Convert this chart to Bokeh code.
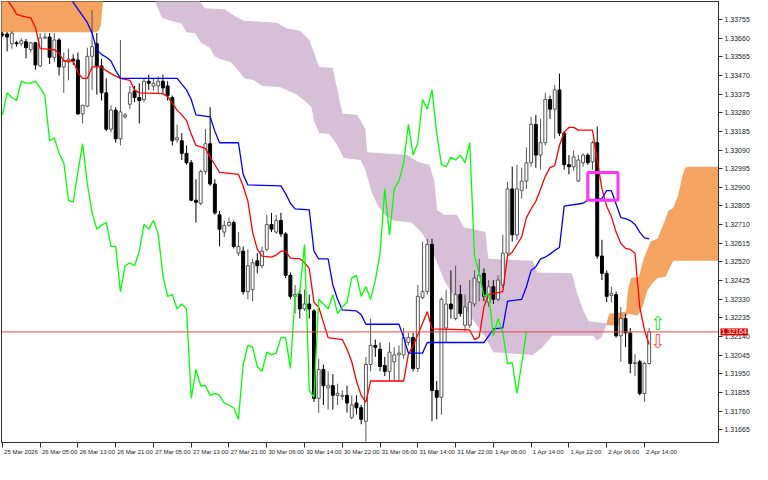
from bokeh.plotting import figure
from bokeh.models import FixedTicker, PrintfTickFormatter, Span, Label, Range1d, ColumnDataSource
from bokeh.embed import file_html
from bokeh.resources import INLINE
from bokeh.core.properties import value

# ---------------- data (H1 bars, index 0 = 25 Mar 21:00) ----------------
open_ = [
1.33680,1.33680,1.33631,1.33636,1.33631,1.33641,1.33601,1.33636,1.33518,1.33660,
1.33665,1.33562,1.33650,1.33513,1.33538,1.33553,1.33548,1.33274,1.33313,1.33567,
1.33631,1.33518,1.33381,1.33196,1.33293,1.33147,1.33259,1.33323,1.33391,1.33357,
1.33347,1.33440,1.33416,1.33416,1.33440,1.33416,1.33357,1.33142,1.33137,1.33073,
1.33025,1.32834,1.32819,1.32980,1.33122,1.32917,1.32760,1.32672,1.32707,1.32721,
1.32565,1.32575,1.32369,1.32379,1.32526,1.32501,1.32584,1.32711,1.32672,1.32731,
1.32663,1.32452,1.32345,1.32354,1.32281,1.32306,1.32271,1.31826,1.31973,1.31880,
1.31890,1.31841,1.31836,1.31841,1.31729,1.31802,1.31778,1.31709,1.31998,1.32095,
1.32076,1.31993,1.31963,1.32012,1.32047,1.32047,1.32110,1.32135,1.31978,1.32340,
1.32369,1.32609,1.31866,1.31831,1.32184,1.32306,1.32232,1.32354,1.32198,1.32198,
1.32306,1.32418,1.32462,1.32315,1.32394,1.32330,1.32403,1.32565,1.32892,1.32658,
1.32883,1.32932,1.33025,1.33220,1.33064,1.33127,1.33347,1.33298,1.33396,1.33176,
1.33015,1.33005,1.32932,1.33025,1.33064,1.33030,1.33127,1.32550,1.32462,1.32350,
1.32354,1.32144,1.32232,1.32159,1.32003,1.32012,1.31851,1.32003]
high = [
1.33690,1.33690,1.33694,1.33646,1.33660,1.33655,1.33641,1.33641,1.33685,1.33685,
1.33685,1.33685,1.33660,1.33587,1.33606,1.33577,1.33587,1.33318,1.33611,1.33802,
1.33685,1.33553,1.33455,1.33318,1.33308,1.33650,1.33279,1.33416,1.33416,1.33430,
1.33455,1.33474,1.33455,1.33465,1.33474,1.33440,1.33367,1.33220,1.33176,1.33113,
1.33039,1.32941,1.32990,1.33196,1.33308,1.32941,1.32780,1.32731,1.32746,1.32731,
1.32672,1.32599,1.32584,1.32536,1.32565,1.32599,1.32760,1.32770,1.32760,1.32770,
1.32672,1.32467,1.32403,1.32379,1.32379,1.32354,1.32281,1.32027,1.31998,1.31963,
1.31949,1.31900,1.31866,1.31890,1.31841,1.31841,1.31792,1.32037,1.32232,1.32125,
1.32110,1.32037,1.32110,1.32086,1.32095,1.32184,1.32159,1.32159,1.32403,1.32624,
1.32638,1.32638,1.31914,1.32340,1.32379,1.32477,1.32501,1.32403,1.32354,1.32428,
1.32477,1.32536,1.32487,1.32428,1.32428,1.32452,1.32658,1.32927,1.33005,1.33015,
1.33000,1.33103,1.33259,1.33269,1.33249,1.33381,1.33367,1.33421,1.33479,1.33186,
1.33064,1.33088,1.33064,1.33073,1.33073,1.33137,1.33210,1.32633,1.32477,1.32394,
1.32369,1.32291,1.32257,1.32184,1.32051,1.32022,1.32012,1.32184]
low = [
1.33665,1.33592,1.33606,1.33616,1.33621,1.33557,1.33587,1.33499,1.33513,1.33655,
1.33528,1.33538,1.33469,1.33381,1.33445,1.33523,1.33269,1.33225,1.33308,1.33396,
1.33372,1.33342,1.33186,1.33181,1.33127,1.33113,1.33249,1.33298,1.33333,1.33225,
1.33333,1.33396,1.33391,1.33381,1.33381,1.33342,1.33113,1.33127,1.33039,1.33015,
1.32829,1.32721,1.32809,1.32966,1.32907,1.32760,1.32599,1.32648,1.32697,1.32589,
1.32550,1.32354,1.32330,1.32320,1.32462,1.32487,1.32575,1.32672,1.32663,1.32648,
1.32438,1.32330,1.32257,1.32232,1.32271,1.32232,1.31807,1.31753,1.31792,1.31768,
1.31768,1.31792,1.31817,1.31753,1.31719,1.31743,1.31694,1.31606,1.31963,1.32037,
1.31963,1.31939,1.31914,1.31914,1.31914,1.32027,1.32095,1.31963,1.31959,1.32330,
1.32354,1.31709,1.31719,1.31743,1.32110,1.32232,1.32223,1.32242,1.32169,1.32184,
1.32291,1.32320,1.32320,1.32291,1.32306,1.32320,1.32389,1.32536,1.32624,1.32633,
1.32843,1.32892,1.33005,1.33000,1.32990,1.33113,1.33249,1.33147,1.33161,1.32990,
1.32966,1.32985,1.32927,1.33005,1.33015,1.32990,1.32536,1.32428,1.32315,1.32315,
1.32135,1.32012,1.32086,1.31954,1.31939,1.31841,1.31807,1.31998]
close = [
1.33675,1.33665,1.33685,1.33631,1.33646,1.33611,1.33636,1.33523,1.33660,1.33665,
1.33562,1.33650,1.33513,1.33543,1.33553,1.33543,1.33274,1.33318,1.33567,1.33616,
1.33518,1.33381,1.33196,1.33293,1.33147,1.33284,1.33269,1.33381,1.33357,1.33342,
1.33440,1.33430,1.33430,1.33440,1.33406,1.33367,1.33137,1.33152,1.33073,1.33025,
1.32834,1.32824,1.32980,1.33122,1.32917,1.32770,1.32687,1.32707,1.32721,1.32599,
1.32599,1.32369,1.32501,1.32516,1.32501,1.32575,1.32711,1.32687,1.32731,1.32663,
1.32452,1.32345,1.32354,1.32281,1.32306,1.32281,1.31826,1.31973,1.31890,1.31890,
1.31841,1.31851,1.31841,1.31802,1.31792,1.31778,1.31719,1.31998,1.32095,1.32086,
1.31988,1.31963,1.32061,1.32047,1.32056,1.32135,1.32135,1.31978,1.32345,1.32369,
1.32609,1.31866,1.31831,1.32330,1.32306,1.32281,1.32354,1.32257,1.32291,1.32315,
1.32438,1.32452,1.32345,1.32394,1.32330,1.32428,1.32565,1.32892,1.32658,1.32892,
1.32932,1.33025,1.33220,1.33064,1.33127,1.33347,1.33298,1.33396,1.33176,1.33015,
1.33005,1.33054,1.33039,1.33064,1.33025,1.33127,1.32550,1.32462,1.32345,1.32359,
1.32144,1.32232,1.32159,1.32003,1.32007,1.31851,1.32003,1.32164]

# Tenkan-sen (red) and Kijun-sen (blue): bar index / value
tenkan_idx = [0,2,3,4,6,7,8,11,12,13,15,16,17,18,19,21,22,23,25,27,28,29,34,35,36,37,38,39,40,41,
              43,44,45,46,50,51,52,53,54,55,57,58,59,60,61,63,64,65,66,67,69,72,73,74,75,76,77,78,85,86,
              87,88,89,90,91,99,100,101,102,103,106,107,108,109,110,111,112,113,114,115,116,117,118,119,120,121,122,125,126,127,
              128,129,130,131,132,133,134,135,136,137]
tenkan_val = [1.33885,1.33822,1.33782,1.33773,1.33763,1.33714,1.33606,1.33601,1.33582,1.33543,
              1.33543,1.33484,1.33455,1.33455,1.33513,1.33513,1.33494,1.33479,1.33455,1.33445,
              1.33396,1.33381,1.33377,1.33362,1.33328,1.33293,1.33269,1.33240,1.33171,1.33113,
              1.33098,1.33054,1.33015,1.32976,1.32966,1.32907,1.32829,1.32672,1.32584,1.32550,
              1.32545,1.32555,1.32575,1.32575,1.32540,1.32536,1.32516,1.32487,1.32315,1.32291,
              1.32135,1.32125,1.32076,1.32012,1.31914,1.31841,1.31807,1.31914,1.31914,1.32051,
              1.32095,1.32149,1.32208,1.32267,1.32179,1.32174,1.32125,1.32139,1.32291,1.32354,
              1.32369,1.32550,1.32570,1.32609,1.32648,1.32746,1.32790,1.32829,1.32892,1.32956,
              1.33000,1.33010,1.33113,1.33181,1.33205,1.33205,1.33191,1.33191,1.33039,1.32892,
              1.32804,1.32751,1.32672,1.32614,1.32589,1.32584,1.32565,1.32291,1.32174,1.32100]
kijun_idx = [14,15,16,17,18,19,20,21,22,23,24,25,37,38,39,40,41,44,45,46,
             50,51,52,59,60,61,62,65,66,67,69,70,71,72,75,76,77,84,85,86,
             89,90,102,103,104,106,107,110,111,112,113,114,115,116,117,118,119,123,124,127,
             128,129,131,132,133,134,135,136,137]
kijun_val = [1.33885,1.33841,1.33807,1.33773,1.33738,1.33685,1.33601,1.33577,1.33562,1.33543,
             1.33494,1.33455,1.33455,1.33425,1.33396,1.33347,1.33269,1.33259,1.33186,1.33127,
             1.33127,1.32966,1.32912,1.32907,1.32868,1.32819,1.32790,1.32785,1.32575,1.32536,
             1.32536,1.32403,1.32330,1.32276,1.32271,1.32252,1.32203,1.32203,1.32135,1.32056,
             1.32056,1.32110,1.32110,1.32144,1.32179,1.32184,1.32320,1.32330,1.32394,1.32477,
             1.32496,1.32536,1.32545,1.32560,1.32579,1.32594,1.32804,1.32819,1.32834,1.32843,
             1.32883,1.32883,1.32746,1.32741,1.32731,1.32711,1.32672,1.32643,1.32638]
chikou_shift = 26

# Kumo (cloud) outlines: upper edge left->right, lower edge right->left
bull1_x = [-1, 21.27, 21.27, 20.85, 20.44, 19.81, -1]
bull1_y = [1.33944, 1.33944, 1.33836, 1.33724, 1.33699, 1.33690, 1.33690]
bear_up_x = [31.06, 41.83, 41.83, 42.88, 47.04, 49.81, 51.21, 58.15, 60.23, 62.94, 65.02, 65.79, 67.1,
             69.96, 71.0, 72.04, 75.17, 76.9, 77.25, 85.85, 87.94, 90.44, 91.48, 92.1, 93.56, 96.27,
             97.73, 99.81, 102.31, 102.94, 112.31, 113.35, 120.65, 121.69, 123.15, 124.19, 127.94]
bear_up_y = [1.33944, 1.33944, 1.33846, 1.33812, 1.33807, 1.33763, 1.33748, 1.33738, 1.33709, 1.33699,
             1.33650, 1.33601, 1.33513, 1.33509, 1.33391, 1.33274, 1.33269, 1.33196, 1.33078, 1.33064,
             1.33030, 1.33015, 1.32932, 1.32785, 1.32760, 1.32760, 1.32697, 1.32687, 1.32672, 1.32536,
             1.32526, 1.32467, 1.32462, 1.32364, 1.32267, 1.32218, 1.32208]
bear_lo_x = [127.94, 126.9, 125.85, 125.23, 116.48, 114.4, 112.31, 103.98, 102.31, 98.77, 95.65, 93.56,
             90.85, 88.71, 86.63, 82.73, 81.06, 79.6, 78.29, 76.9, 75.85, 72.31, 70.65, 69.19, 67.1, 66.06,
             65.44, 64.4, 62.31, 60.23, 58.77, 55.02, 53.29, 51.21, 50.17, 48.35, 46.0, 44.96, 43.92, 42.1,
             40.79, 38.98, 37.94, 35.58, 33.77, 32.46, 32.1]
bear_lo_y = [1.32198, 1.32135, 1.32120, 1.32144, 1.32144, 1.32086, 1.32047, 1.32061, 1.32135, 1.32257,
             1.32345, 1.32428, 1.32589, 1.32672, 1.32721, 1.32731, 1.32756, 1.32804, 1.32868, 1.32990,
             1.33039, 1.33049, 1.33127, 1.33171, 1.33176, 1.33235, 1.33308, 1.33333, 1.33372, 1.33396,
             1.33411, 1.33416, 1.33445, 1.33455, 1.33489, 1.33538, 1.33553, 1.33567, 1.33611, 1.33636,
             1.33685, 1.33690, 1.33734, 1.33748, 1.33763, 1.33838, 1.33944]
bull2_up_x = [127.94, 128.56, 132.1, 132.52, 133.15, 134.81, 135.85, 137.31, 138.77, 140.02, 141.06,
              142.1, 143.15, 143.98, 144.6, 145.65, 152.9]
bull2_up_y = [1.32208, 1.32257, 1.32267, 1.32379, 1.32438, 1.32443, 1.32536, 1.32624, 1.32638, 1.32711,
              1.32780, 1.32795, 1.32858, 1.32951, 1.33000, 1.33005, 1.33005]
bull2_lo_x = [152.9, 142.1, 141.06, 140.44, 138.77, 137.73, 136.69, 135.65, 134.6, 132.52, 130.44, 127.94]
bull2_lo_y = [1.32526, 1.32526, 1.32477, 1.32443, 1.32438, 1.32413, 1.32379, 1.32296, 1.32247, 1.32257,
              1.32198, 1.32198]

current_price = 1.32164
box_left, box_right, box_top, box_bottom = 124.0, 130.4, 1.32976, 1.32834
arrow_idx = [138.8, 138.8]
arrow_price = [1.32210, 1.32118]
arrow_glyph = ["\u21e7", "\u21e9"]
arrow_color = ["#33dd33", "#ff5555"]

price_ticks = [1.31665, 1.31760, 1.31855, 1.31950, 1.32045, 1.32140, 1.32235, 1.32330, 1.32425,
               1.32520, 1.32615, 1.32710, 1.32805, 1.32900, 1.32995, 1.33090, 1.33185, 1.33280,
               1.33375, 1.33470, 1.33565, 1.33660, 1.33755]
time_ticks = [0, 8, 16, 24, 32, 40, 48, 56, 64, 72, 80, 88, 96, 104, 112, 120, 128, 136]
time_labels = ["25 Mar 2026", "26 Mar 05:00", "26 Mar 13:00", "26 Mar 21:00", "27 Mar 05:00",
               "27 Mar 13:00", "27 Mar 21:00", "30 Mar 06:00", "30 Mar 14:00", "30 Mar 22:00",
               "31 Mar 06:00", "31 Mar 14:00", "31 Mar 22:00", "1 Apr 06:00", "1 Apr 14:00",
               "1 Apr 22:00", "2 Apr 06:00", "2 Apr 14:00"]

# ---------------- figure ----------------
X0, X1 = -0.19, 151.69
p = figure(width=752, height=464, output_backend="svg", toolbar_location=None,
           x_range=Range1d(X0, X1), y_range=Range1d(1.31601, 1.33846),
           y_axis_location="right", min_border_left=1, min_border_top=1,
           min_border_right=0, min_border_bottom=0)
p.grid.visible = False
p.outline_line_color = "#303030"
p.background_fill_color = "white"
p.border_fill_color = "white"

# cloud
p.patch(bull1_x, bull1_y, fill_color="#F4A460", line_color=None)
p.patch(bear_up_x + bear_lo_x, bear_up_y + bear_lo_y, fill_color="#D8BFD8", line_color=None)
p.patch(bull2_up_x + bull2_lo_x, bull2_up_y + bull2_lo_y, fill_color="#F4A460", line_color=None)

# current price line
p.add_layout(Span(location=current_price, dimension="width", line_color="#f04040", line_width=1))

# candles
idx = list(range(len(close)))
bull = [c >= o for o, c in zip(open_, close)]
src = ColumnDataSource(dict(
    idx=idx, high=high, low=low,
    top=[max(o, c) for o, c in zip(open_, close)],
    bottom=[min(o, c) for o, c in zip(open_, close)],
    fill=["white" if b else "black" for b in bull],
    line=["#555555" if b else "black" for b in bull],
))
p.segment(x0="idx", y0="low", x1="idx", y1="high", line_color="line", line_width=1, source=src)
p.vbar(x="idx", width=0.62, top="top", bottom="bottom", fill_color="fill",
       line_color="line", line_width=1, source=src)

# Ichimoku lines
p.line(tenkan_idx, tenkan_val, line_color="#ff0000", line_width=1.3)
p.line(kijun_idx, kijun_val, line_color="#0000ff", line_width=1.3)
p.line([i - chikou_shift for i in idx[chikou_shift:]], close[chikou_shift:],
       line_color="#00ff00", line_width=1.3)

# marked rectangle and arrows
p.quad(left=[box_left], right=[box_right], top=[box_top], bottom=[box_bottom],
       fill_alpha=0, line_color="#ff33ff", line_width=3)
p.text(x=arrow_idx, y=arrow_price, text=arrow_glyph, text_color=arrow_color,
       text_font=value("DejaVu Sans"), text_font_size="19px",
       text_align="center", text_baseline="middle")

# ---- price axis ----
ya = p.yaxis[0]
ya.ticker = FixedTicker(ticks=price_ticks)
ya.formatter = PrintfTickFormatter(format="%.5f")
ya.major_label_text_font = "Liberation Sans"
ya.major_label_text_font_size = "7px"
ya.major_label_text_color = "#222222"
ya.major_tick_in = 0
ya.major_tick_out = 4
ya.minor_tick_in = 0
ya.minor_tick_out = 0
ya.major_label_standoff = 2
ya.axis_line_color = "#303030"
ya.major_tick_line_color = "#303030"

# ---- time axis: labels start just right of their tick (MetaTrader style) ----
FONT_PX = 6.0
EM = {"0": .556, "1": .556, "2": .556, "3": .556, "4": .556, "5": .556, "6": .556, "7": .556,
      "8": .556, "9": .556, " ": .278, ":": .278, "M": .833, "a": .556, "r": .333, "A": .667, "p": .556}
frame_px = 709.0
px_per_bar = frame_px / (X1 - X0)
centers = [round(t + (sum(EM.get(ch, .556) for ch in s) * FONT_PX / 2 + 1.5) / px_per_bar, 3)
           for t, s in zip(time_ticks, time_labels)]
xa = p.xaxis[0]
xa.ticker = FixedTicker(ticks=centers, minor_ticks=time_ticks)
xa.major_label_overrides = {c: s for c, s in zip(centers, time_labels)}
xa.major_label_text_font = "Liberation Sans"
xa.major_label_text_font_size = "%gpx" % FONT_PX
xa.major_label_text_color = "#222222"
xa.major_tick_in = 0
xa.major_tick_out = 0
xa.major_tick_line_color = None
xa.minor_tick_in = 0
xa.minor_tick_out = 5
xa.minor_tick_line_color = "#303030"
xa.major_label_standoff = 1
xa.axis_line_color = "#303030"

# current price tag on the price scale (kept in a side panel so it is not clipped to the frame)
p.add_layout(Label(x=X1, y=current_price, text="%.5f" % current_price, x_offset=2,
                   text_color="white", text_font="Liberation Sans", text_font_size="7px",
                   text_align="left", text_baseline="middle",
                   background_fill_color="#e00000", padding=1), "below")

open("out.html", "w").write(file_html(p, INLINE))
